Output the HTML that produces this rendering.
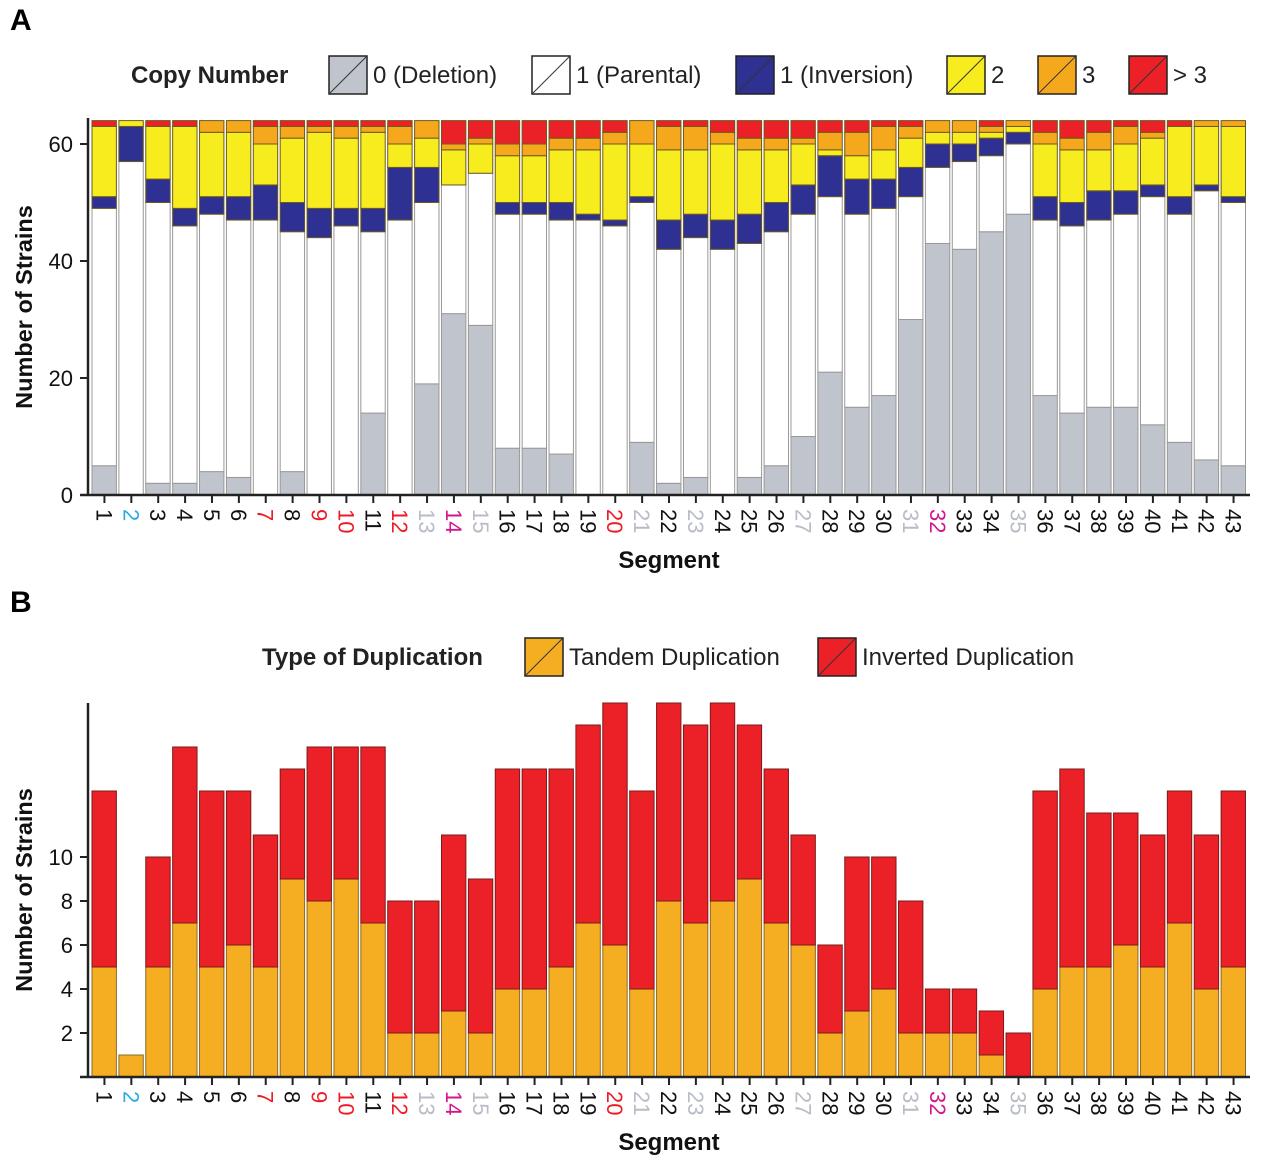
<!DOCTYPE html>
<html><head><meta charset="utf-8"><style>
body{margin:0;background:#fff;}
svg{display:block;font-family:"Liberation Sans",Arial,sans-serif;}
</style></head>
<body>
<svg id="fig" width="1280" height="1165" viewBox="0 0 1280 1165" xmlns="http://www.w3.org/2000/svg">
<text x="10" y="30" font-size="30" font-weight="bold">A</text>
<text x="10" y="612" font-size="30" font-weight="bold">B</text>
<g id="legA"></g>
<g id="legB"></g>
<g id="chartA"></g>
<g id="chartB"></g>
</svg>
<script>
const segments = Array.from({length:43},(_,i)=>String(i+1));
const labelColorsBlue = [2];
const labelColorsRed = [7,9,10,12,20];
const labelColorsGray = [13,15,21,23,27,31,35];
const labelColorsMagenta = [14,32];
// Panel A counts per segment
const deletion  = [5,0,2,2,4,3,0,4,0,0,14,0,19,31,29,8,8,7,0,0,9,2,3,0,3,5,10,21,15,17,30,43,42,45,48,17,14,15,15,12,9,6,5];
const parental  = [44,57,48,44,44,44,47,41,44,46,31,47,31,22,26,40,40,40,47,46,41,40,41,42,40,40,38,30,33,32,21,13,15,13,12,30,32,32,33,39,39,46,45];
const inversion = [2,6,4,3,3,4,6,5,5,3,4,9,6,0,0,2,2,3,1,1,1,5,4,5,5,5,5,7,6,5,5,4,3,3,2,4,4,5,4,2,3,1,1];
const copy2     = [12,1,9,14,11,11,7,11,13,12,13,4,5,6,5,8,8,9,11,13,9,12,11,13,11,9,7,1,4,5,5,2,2,1,1,9,9,7,8,8,12,10,12];
const copy3     = [0,0,0,0,2,2,3,2,1,2,1,3,3,1,1,2,2,2,2,2,4,4,4,2,2,2,1,3,4,4,2,2,2,1,1,2,2,3,3,1,0,1,1];
const copyMore  = [1,0,1,1,0,0,1,1,1,1,1,1,0,4,3,4,4,3,3,2,0,1,1,2,3,3,3,2,2,1,1,0,0,1,0,2,3,2,1,2,1,0,0];
const yTicksA = [0,20,40,60];
// Panel B
const tandem = [5,1,5,7,5,6,5,9,8,9,7,2,2,3,2,4,4,5,7,6,4,8,7,8,9,7,6,2,3,4,2,2,2,1,0,4,5,5,6,5,7,4,5];
const totalDup = [13,1,10,15,13,13,11,14,15,15,15,8,8,11,9,14,14,14,16,17,13,17,16,17,16,14,11,6,10,10,8,4,4,3,2,13,14,12,12,11,13,11,13];
const yTicksB = [2,4,6,8,10];

const NS='http://www.w3.org/2000/svg';
function mk(tag,attrs,parent){const e=document.createElementNS(NS,tag);for(const k in attrs)e.setAttribute(k,attrs[k]);parent.appendChild(e);return e;}
const X0=91, PITCH=(1247-91)/43;
const xA=i=>X0+i*PITCH;
const yA=v=>495-v*(351/60);
const yB=v=>1077-v*22;
function labelColor(n){
  if(labelColorsBlue.includes(n))return '#29abe2';
  if(labelColorsRed.includes(n))return '#ed1c24';
  if(labelColorsGray.includes(n))return '#b8bcc6';
  if(labelColorsMagenta.includes(n))return '#d4148c';
  return '#111';
}
const colors=['#c0c4cc','#ffffff','#2e3192','#f7ec1e','#f5a81c','#ec2127'];
const seriesA=[deletion,parental,inversion,copy2,copy3,copyMore];
const seriesNamesA=['deletion','parental','inversion','copy-2','copy-3','copy-more'];

function axes(g,base,yfun,ticks,top,titleY,name){
  const ax=mk('line',{x1:88,y1:top,x2:88,y2:base,stroke:'#222','stroke-width':2.5},g);
  
  
  const bx=mk('line',{x1:80,y1:base,x2:1250,y2:base,stroke:'#222','stroke-width':2.5},g);
  
  
  ticks.forEach(t=>{
    const y=yfun(t);
    mk('line',{x1:80,y1:y,x2:88,y2:y,stroke:'#222','stroke-width':2},g);
    const tx=mk('text',{x:73,y:y+8,'font-size':22,'text-anchor':'end',fill:'#111'},g);
    tx.textContent=t;
    
    
  });
  segments.forEach((s,i)=>{
    const cx=xA(i)+PITCH/2;
    mk('line',{x1:cx,y1:base,x2:cx,y2:base+8,stroke:'#222','stroke-width':2},g);
    const tx=mk('text',{x:cx-8,y:base+14,'font-size':22,fill:labelColor(i+1),transform:`rotate(90 ${cx-8} ${base+14})`},g);
    tx.textContent=s;
    
    
  });
  const yt=mk('text',{x:0,y:0,'font-size':23.5,'font-weight':'bold','text-anchor':'middle',fill:'#111',transform:`translate(32 ${titleY}) rotate(-90)`},g);
  yt.textContent='Number of Strains';
  
  
  const xt=mk('text',{x:669,y:base+73,'font-size':24,'font-weight':'bold','text-anchor':'middle',fill:'#111'},g);
  xt.textContent='Segment';
  
  
}

const gA=document.getElementById('chartA');
segments.forEach((s,i)=>{
  let cum=0;
  seriesA.forEach((ser,k)=>{
    const v=ser[i]; if(!v){return;}
    const y1=yA(cum+v), y0=yA(cum);
    const r=mk('rect',{x:xA(i)+1,y:y1,width:PITCH-2.5,height:y0-y1,fill:colors[k],stroke:k==1||k==0?'#999':'#6b5a1e','stroke-width':1},gA);
    
    
    cum+=v;
  });
});
axes(gA,495,yA,yTicksA,118,307,'copy-number');

const gB=document.getElementById('chartB');
segments.forEach((s,i)=>{
  const t=tandem[i], tot=totalDup[i];
  if(t>0){const r=mk('rect',{x:xA(i)+1,y:yB(t),width:PITCH-2.5,height:yB(0)-yB(t),fill:'#f5ae22',stroke:'#8a6a2a','stroke-width':1},gB);
    
    }
  if(tot>t){const r=mk('rect',{x:xA(i)+1,y:yB(tot),width:PITCH-2.5,height:yB(t)-yB(tot),fill:'#ec2127',stroke:'#7a1a1a','stroke-width':1},gB);
    
    }
});
axes(gB,1077,yB,yTicksB,703,890,'duplication');

function legend(g,title,tx,tw,items,y){
  const t=mk('text',{x:tx,y:y+8,'font-size':24,'font-weight':'bold',fill:'#222'},g);
  t.textContent=title;
  
  
  items.forEach(it=>{
    const sw=mk('rect',{x:it.x,y:y-19,width:38,height:38,fill:it.c,stroke:'#222','stroke-width':1.5},g);
    
    
    mk('line',{x1:it.x+1,y1:y+18,x2:it.x+37,y2:y-18,stroke:'#333','stroke-width':1},g);
    const l=mk('text',{x:it.x+44,y:y+8,'font-size':24,fill:'#222'},g);
    l.textContent=it.t;
    
    
  });
}
legend(document.getElementById('legA'),'Copy Number',131,0,[
 {x:329,c:colors[0],t:'0 (Deletion)'},{x:532,c:'#fff',t:'1 (Parental)'},{x:736,c:colors[2],t:'1 (Inversion)'},
 {x:947,c:colors[3],t:'2'},{x:1038,c:colors[4],t:'3'},{x:1129,c:colors[5],t:'> 3'}],75);
legend(document.getElementById('legB'),'Type of Duplication',262,0,[
 {x:525,c:'#f5ae22',t:'Tandem Duplication'},{x:818,c:'#ec2127',t:'Inverted Duplication'}],657);
</script>
</body></html>
